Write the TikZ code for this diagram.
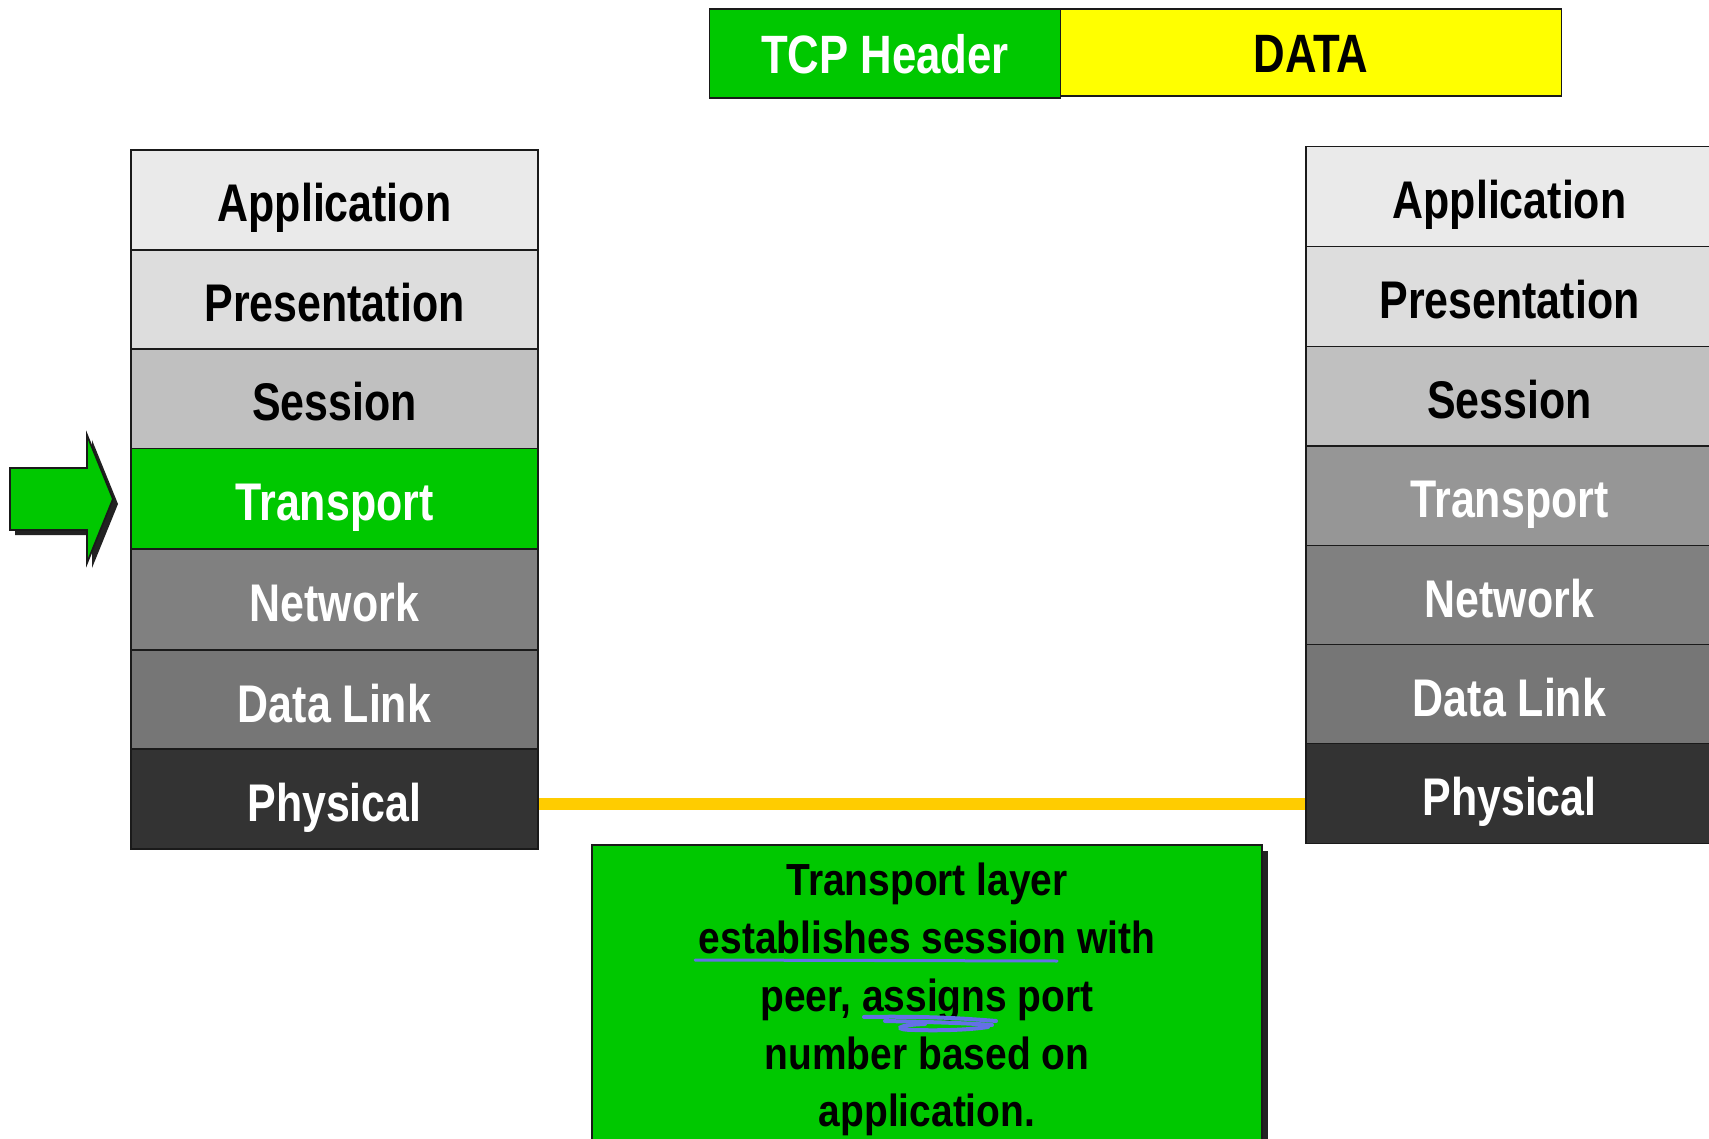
\documentclass[tikz,border=0pt]{standalone}
\usepackage{fontspec}
\usetikzlibrary{shadows}
\newfontfamily\labelfont[FakeStretch=0.81]{Liberation Sans}
\newfontfamily\notefont[FakeStretch=0.865]{Liberation Sans}

\definecolor{tcpgreen}{RGB}{0,200,0}
\definecolor{datayellow}{RGB}{255,255,0}
\definecolor{wireyellow}{RGB}{255,204,0}
\definecolor{edge}{RGB}{26,26,26}
\definecolor{shade}{RGB}{34,34,34}
\definecolor{ink}{RGB}{100,112,230}
\definecolor{appgray}{RGB}{234,234,234}
\definecolor{presgray}{RGB}{221,221,221}
\definecolor{sessgray}{RGB}{192,192,192}
\definecolor{trangray}{RGB}{150,150,150}
\definecolor{netgray}{RGB}{128,128,128}
\definecolor{linkgray}{RGB}{118,118,118}
\definecolor{physgray}{RGB}{51,51,51}

\tikzset{
  layer/.style={draw=edge, line width=1.8pt, rectangle,
    minimum width=407pt, minimum height=100pt, inner sep=0pt,
    font=\labelfont\bfseries\fontsize{53}{60}\selectfont,
    text height=44pt, text depth=0pt},
  darklabel/.style={text=black},
  lightlabel/.style={text=white},
  segment/.style={draw=edge, line width=1.8pt, rectangle, inner sep=0pt,
    font=\labelfont\bfseries\fontsize{54}{60}\selectfont,
    text height=41pt, text depth=0pt},
  notetext/.style={inner sep=0pt, anchor=base, text=black,
    font=\notefont\bfseries\fontsize{45}{54}\selectfont},
  wire/.style={draw=wireyellow, line width=12pt},
  pen/.style={draw=ink, line width=4pt, line cap=round},
  pointer/.style={fill=tcpgreen, draw=edge, line width=1.8pt,
    drop shadow={shadow xshift=5pt, shadow yshift=-5pt, fill=shade, opacity=1}},
  notebox/.style={fill=tcpgreen, draw=edge, line width=1.8pt, rectangle,
    minimum width=670pt, minimum height=305pt,
    drop shadow={shadow xshift=6pt, shadow yshift=-6pt, fill=shade, opacity=1}}
}

\begin{document}
\begin{tikzpicture}[x=1pt, y=-1pt]
  \useasboundingbox (0,0) rectangle (1709,1139);
  \clip (0,0) rectangle (1709,1139);
  \fill[white] (0,0) rectangle (1709,1139);

  % TCP segment at the top
  \node[segment, fill=tcpgreen, text=white, minimum width=351pt, minimum height=89pt]
    (tcphdr) at (885,53.5) {TCP Header};
  \node[segment, fill=datayellow, text=black, minimum width=501pt, minimum height=87pt]
    (data) at (1311,52.5) {DATA};

  % left (sending) stack
  \node[layer, fill=appgray,  darklabel]  (lapp)  at (334.5,200)   {Application};
  \node[layer, fill=presgray, darklabel]  (lpres) at (334.5,300)   {Presentation};
  \node[layer, fill=sessgray, darklabel]  (lsess) at (334.5,399)   {Session};
  \node[layer, fill=netgray,  lightlabel] (lnet)  at (334.5,599.5) {Network};
  \node[layer, fill=linkgray, lightlabel] (llink) at (334.5,700)   {Data Link};
  \node[layer, fill=physgray, lightlabel] (lphy)  at (334.5,799)   {Physical};
  \node[layer, fill=tcpgreen, lightlabel] (ltran) at (334.5,498.5) {Transport};

  % right (receiving) stack
  \node[layer, fill=appgray,  darklabel]  (rapp)  at (1509.5,196.5) {Application};
  \node[layer, fill=presgray, darklabel]  (rpres) at (1509.5,296.5) {Presentation};
  \node[layer, fill=sessgray, darklabel]  (rsess) at (1509.5,396.5) {Session};
  \node[layer, fill=trangray, lightlabel] (rtran) at (1509.5,496)   {Transport};
  \node[layer, fill=netgray,  lightlabel] (rnet)  at (1509.5,595.5) {Network};
  \node[layer, fill=linkgray, lightlabel] (rlink) at (1509.5,694.5) {Data Link};
  \node[layer, fill=physgray, lightlabel] (rphy)  at (1509.5,793.5) {Physical};

  % physical link between the stacks
  \coordinate (wirelevel) at (0,804);
  \draw[wire] (lphy.east |- wirelevel) -- (rphy.west |- wirelevel);

  % arrow pointing at the active layer
  \draw[pointer] (10,468) -- (87,468) -- (87,435) -- (113,499)
    -- (87,563) -- (87,530) -- (10,530) -- cycle;

  % explanatory note
  \node[notebox] (note) at (927,997.5) {};
  \node[notetext] (note1) at (927,895)  {Transport layer};
  \node[notetext] (note2) at (927,953)  {establishes session with};
  \node[notetext] (note3) at (927,1011) {peer, assigns port};
  \node[notetext] (note4) at (927,1069) {number based on};
  \node[notetext] (note5) at (927,1126) {application.};

  % hand-drawn marks under the key words
  \draw[pen, line width=3pt] (695,960) -- (1057,961);
  \draw[pen] (864,1017) .. controls (920,1016) and (960,1018) .. (996,1021);
  \draw[pen] (885,1021) .. controls (930,1022) and (965,1023) .. (992,1025);
  \draw[pen] (925,1024) .. controls (895,1025) and (893,1030) .. (915,1030)
    .. controls (950,1031) and (975,1029) .. (988,1027);
\end{tikzpicture}
\end{document}
